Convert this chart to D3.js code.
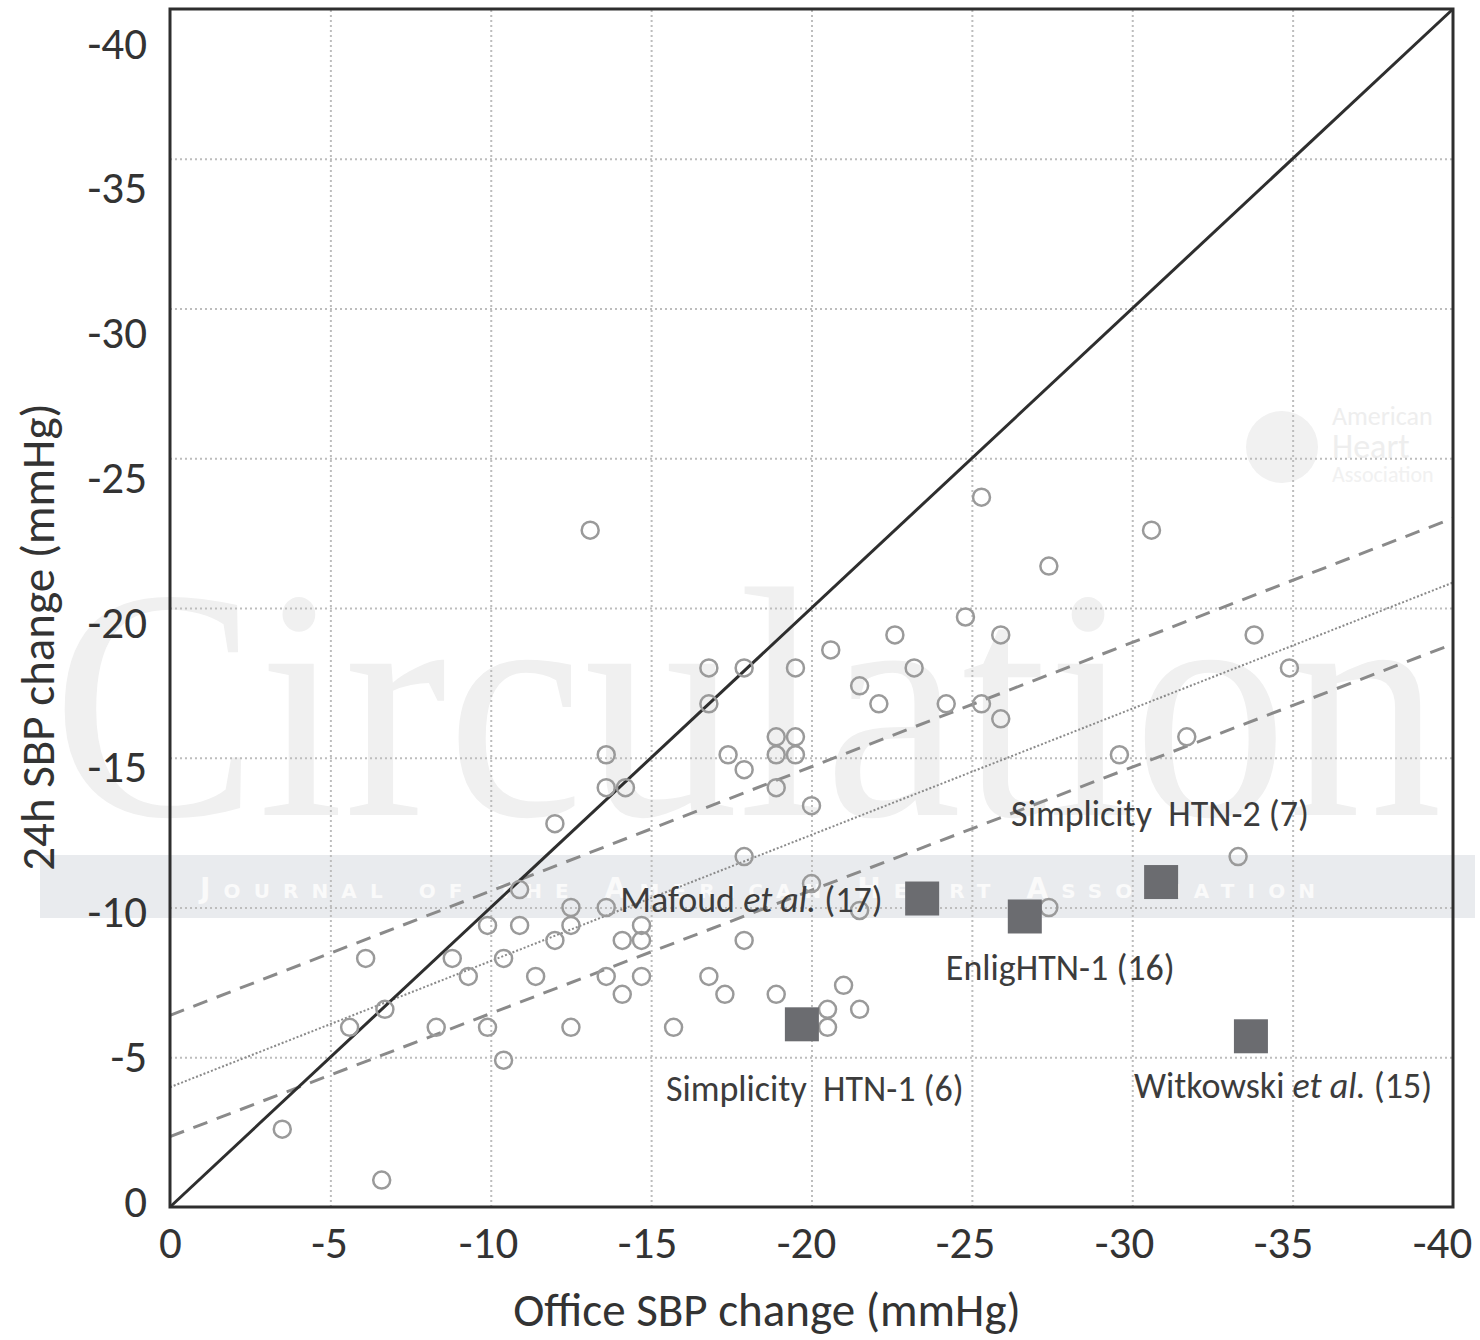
<!DOCTYPE html>
<html>
<head>
<meta charset="utf-8">
<script src="https://cdn.jsdelivr.net/npm/d3@7"></script>
<style>
  html, body { margin: 0; padding: 0; background: #ffffff; }
  svg { display: block; }
  text { font-family: Carlito, Calibri, Lato, sans-serif; fill: #3a3a3a; }
</style>
</head>
<body>
<svg id="chart" width="1480" height="1340"></svg>
<script>
// ---------------- DATA ----------------
// Individual studies (open circles): office SBP change vs 24h ambulatory SBP change (mmHg)
const officeSBP = [
  -3.5, -6.6, -5.6, -6.1, -6.7, -8.3, -8.8, -9.3, -9.9, -9.9,
  -10.4, -10.4, -10.9, -10.9, -11.4, -12.0, -12.0, -12.5, -12.5, -12.5,
  -13.1, -13.6, -13.6, -13.6, -13.6, -14.1, -14.1, -14.2, -14.7, -14.7,
  -14.7, -15.7, -16.8, -16.8, -16.8, -17.4, -17.3, -17.9, -17.9, -17.9,
  -17.9, -18.9, -18.9, -18.9, -18.9, -19.5, -19.5, -19.5, -20.0, -20.0,
  -20.6, -20.5, -20.5, -21.0, -21.5, -21.5, -22.1, -22.6, -23.2, -24.2,
  -24.8, -25.3, -25.3, -25.9, -25.9, -27.4, -27.4, -29.6, -30.6, -31.7,
  -33.3, -33.8, -34.9, -21.5
];
const ambSBP = [
  -2.6, -0.9, -6.0, -8.3, -6.6, -6.0, -8.3, -7.7, -9.4, -6.0,
  -4.9, -8.3, -10.6, -9.4, -7.7, -12.8, -8.9, -9.4, -10.0, -6.0,
  -22.6, -15.1, -14.0, -10.0, -7.7, -8.9, -7.1, -14.0, -9.4, -8.9,
  -7.7, -6.0, -18.0, -16.8, -7.7, -15.1, -7.1, -18.0, -14.6, -11.7,
  -8.9, -7.1, -15.7, -15.1, -14.0, -18.0, -15.7, -15.1, -13.4, -10.8,
  -18.6, -6.6, -6.0, -7.4, -17.4, -6.6, -16.8, -19.1, -18.0, -16.8,
  -19.7, -23.7, -16.8, -19.1, -16.3, -21.4, -10.0, -15.1, -22.6, -15.7,
  -11.7, -19.1, -18.0, -9.9
];

// Renal denervation trials (filled squares)
const trialNames  = ["Simplicity  HTN-1 (6)", "Witkowski et al. (15)", "Mafoud et al. (17)", "EnligHTN-1 (16)", "Simplicity  HTN-2 (7)"];
const trialOffice = [-19.7, -33.7, -23.45, -26.65, -30.9];
const trialAmb    = [-6.1, -5.7, -10.3, -9.7, -10.85];

// Regression line with confidence band (evaluated at the ends of the x range)
const fitX     = [0, -40];
const fitMean  = [-4.0, -20.85];
const fitUpper = [-6.4, -23.0];
const fitLower = [-2.35, -18.8];

// Line of identity
const identityX = [0, -40];
const identityY = [0, -40];

const xTicks = [0, -5, -10, -15, -20, -25, -30, -35, -40];
const yTicks = [0, -5, -10, -15, -20, -25, -30, -35, -40];
const xTitle = "Office SBP change (mmHg)";
const yTitle = "24h SBP change (mmHg)";

// ---------------- LAYOUT ----------------
const plot = { left: 170, right: 1453, top: 9, bottom: 1207 };
const svg = d3.select("#chart");

const x = d3.scaleLinear().domain([0, -40]).range([plot.left, plot.right]);
const y = d3.scaleLinear().domain([0, -40]).range([plot.bottom, plot.top]);
// tick-label placement scales (labels sit slightly inside the frame ends, as in the original)
const xLab = d3.scaleLinear().domain([0, -40]).range([170, 1442]);
const yLab = d3.scaleLinear().domain([0, -40]).range([1200, 42]);

// ---------------- WATERMARK (behind everything) ----------------
const wm = svg.append("g").attr("class", "watermark");
wm.append("text")
  .attr("transform", "translate(52,815) scale(1,1.08)")
  .attr("textLength", 1390).attr("lengthAdjust", "spacingAndGlyphs")
  .style("font-family", "'Liberation Serif', 'DejaVu Serif', serif")
  .style("font-size", "305px")
  .style("fill", "#f0f0f0")
  .text("Circulation");
wm.append("rect")
  .attr("x", 40).attr("y", 855).attr("width", 1435).attr("height", 63)
  .attr("fill", "#e9ebee");
wm.append("text")
  .attr("x", 200).attr("y", 898)
  .attr("textLength", 1115).attr("lengthAdjust", "spacing")
  .style("font-family", "'DejaVu Sans', sans-serif")
  .style("font-size", "28px")
  .style("font-weight", "bold")
  .style("font-variant", "small-caps")
  .style("fill", "#fafafa")
  .text("Journal of the American Heart Association");
wm.append("circle").attr("cx", 1282).attr("cy", 447).attr("r", 36).attr("fill", "#f1f1f1");
wm.append("text").attr("x", 1332).attr("y", 425).style("font-size", "26px").style("fill", "#eeeeee").text("American");
wm.append("text").attr("x", 1332).attr("y", 458).style("font-size", "34px").style("fill", "#eeeeee").text("Heart");
wm.append("text").attr("x", 1332).attr("y", 482).style("font-size", "22px").style("fill", "#f1f1f1").text("Association");

// ---------------- GRID ----------------
const grid = svg.append("g").attr("class", "grid");
grid.append("g")
  .attr("transform", `translate(0,${plot.bottom})`)
  .call(d3.axisBottom(x).tickValues(xTicks.filter(d => d !== 0 && d !== -40))
        .tickSize(-(plot.bottom - plot.top)).tickFormat(""))
  .call(g => g.select(".domain").remove());
grid.append("g")
  .attr("transform", `translate(${plot.left},0)`)
  .call(d3.axisLeft(y).tickValues(yTicks.filter(d => d !== 0 && d !== -40))
        .tickSize(-(plot.right - plot.left)).tickFormat(""))
  .call(g => g.select(".domain").remove());
grid.selectAll("line")
  .attr("stroke", "#bdbdbd")
  .attr("stroke-width", 2)
  .attr("stroke-dasharray", "2,3");

// ---------------- REGRESSION & IDENTITY LINES ----------------
const line = d3.line().x(d => x(d[0])).y(d => y(d[1]));
svg.append("path")
  .datum(fitX.map((v, i) => [v, fitUpper[i]]))
  .attr("d", line).attr("fill", "none")
  .attr("stroke", "#8a8a8a").attr("stroke-width", 3).attr("stroke-dasharray", "15,10");
svg.append("path")
  .datum(fitX.map((v, i) => [v, fitLower[i]]))
  .attr("d", line).attr("fill", "none")
  .attr("stroke", "#8a8a8a").attr("stroke-width", 3).attr("stroke-dasharray", "15,10");
svg.append("path")
  .datum(fitX.map((v, i) => [v, fitMean[i]]))
  .attr("d", line).attr("fill", "none")
  .attr("stroke", "#8a8a8a").attr("stroke-width", 2).attr("stroke-dasharray", "2,2");
svg.append("path")
  .datum(identityX.map((v, i) => [v, identityY[i]]))
  .attr("d", line).attr("fill", "none")
  .attr("stroke", "#2e2e2e").attr("stroke-width", 3);

// ---------------- STUDY POINTS ----------------
svg.append("g").selectAll("circle")
  .data(officeSBP.map((v, i) => ({ x: v, y: ambSBP[i] })))
  .join("circle")
  .attr("cx", d => x(d.x)).attr("cy", d => y(d.y))
  .attr("r", 8.5)
  .attr("fill", "none")
  .attr("stroke", "#9a9a9a")
  .attr("stroke-width", 2.5);

// ---------------- TRIAL SQUARES & LABELS ----------------
const sq = 34;
const trials = trialNames.map((n, i) => ({ name: n, x: trialOffice[i], y: trialAmb[i] }));
svg.append("g").selectAll("rect")
  .data(trials)
  .join("rect")
  .attr("x", d => x(d.x) - sq / 2).attr("y", d => y(d.y) - sq / 2)
  .attr("width", sq).attr("height", sq)
  .attr("fill", "#6b6c70");

// label offsets relative to each square (px)
const labelOffsets = [
  { dx: -136, dy: 64 },   // Simplicity HTN-1
  { dx: -117, dy: 49 },   // Witkowski
  { dx: -302, dy: 1 },    // Mafoud
  { dx: -79,  dy: 51 },   // EnligHTN-1
  { dx: -150, dy: -69 }   // Simplicity HTN-2
];
const labels = svg.append("g").selectAll("text")
  .data(trials)
  .join("text")
  .attr("x", (d, i) => x(d.x) + labelOffsets[i].dx)
  .attr("y", (d, i) => y(d.y) + labelOffsets[i].dy)
  .attr("dy", "0.35em")
  .style("font-size", "36px")
  .style("white-space", "pre")
  .style("fill", "#3c3c3c");
labels.each(function(d) {
  const t = d3.select(this);
  const parts = d.name.split(/(et al\.)/);
  parts.forEach(p => {
    if (!p) return;
    t.append("tspan").style("font-style", p === "et al." ? "italic" : "normal").text(p);
  });
});

// ---------------- FRAME ----------------
svg.append("rect")
  .attr("x", plot.left).attr("y", plot.top)
  .attr("width", plot.right - plot.left).attr("height", plot.bottom - plot.top)
  .attr("fill", "none").attr("stroke", "#2e2e2e").attr("stroke-width", 3);

// ---------------- AXES (tick labels) ----------------
const xAxis = svg.append("g")
  .attr("transform", `translate(0,1226)`)
  .call(d3.axisBottom(xLab).tickValues(xTicks).tickSize(0).tickPadding(0).tickFormat(d => String(d)));
xAxis.select(".domain").remove();
xAxis.selectAll("text")
  .attr("dy", "0.71em")
  .style("font-size", "45px").style("fill", "#333")
  .style("font-family", "Carlito, Calibri, Lato, sans-serif");

const yAxis = svg.append("g")
  .attr("transform", `translate(147,0)`)
  .call(d3.axisLeft(yLab).tickValues(yTicks).tickSize(0).tickPadding(0).tickFormat(d => String(d)));
yAxis.select(".domain").remove();
yAxis.selectAll("text")
  .attr("dy", "0.36em")
  .style("font-size", "45px").style("fill", "#333")
  .style("font-family", "Carlito, Calibri, Lato, sans-serif");

// ---------------- AXIS TITLES ----------------
svg.append("text")
  .attr("x", 767).attr("y", 1310).attr("dy", "0.35em")
  .attr("text-anchor", "middle")
  .style("font-size", "47px").style("fill", "#333")
  .text(xTitle);
svg.append("text")
  .attr("transform", "translate(38,637) rotate(-90)")
  .attr("dy", "0.35em")
  .attr("text-anchor", "middle")
  .style("font-size", "47px").style("fill", "#333")
  .text(yTitle);
</script>
</body>
</html>
